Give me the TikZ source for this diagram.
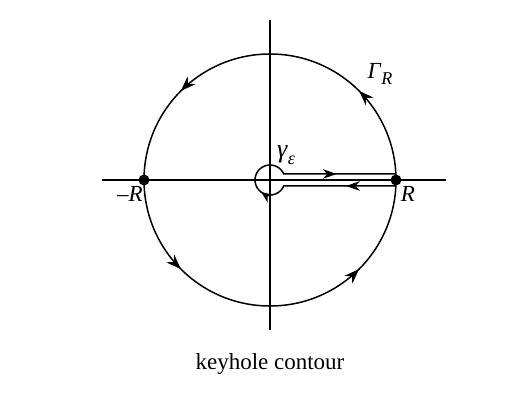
\documentclass[tikz,border=0pt]{standalone}
\usepackage{fontspec}
\setmainfont{Liberation Serif}
\usetikzlibrary{arrows.meta,decorations.markings}
\newcommand{\mysub}[1]{\raisebox{-0.25em}{\fontsize{9}{10}\selectfont\textit{#1}}}
\tikzset{
  ln/.style={line width=0.75pt},
  dot/.style={circle,fill=black,inner sep=0pt,minimum size=5.5pt},
  lbl/.style={inner sep=1pt,font=\fontsize{11.5}{13}\selectfont},
  bigarrows/.style={postaction={decorate},decoration={markings,
    mark=at position 0.125 with {\arrow{Stealth[length=7.5pt,width=5.5pt]}},
    mark=at position 0.375 with {\arrow{Stealth[length=7.5pt,width=5.5pt]}},
    mark=at position 0.625 with {\arrow{Stealth[length=7.5pt,width=5.5pt]}},
    mark=at position 0.875 with {\arrow{Stealth[length=7.5pt,width=5.5pt]}}}},
  keyarrows/.style={postaction={decorate},decoration={markings,
    mark=at position 0.163 with {\arrow{Stealth[length=7pt,width=4.8pt]}},
    mark=at position 0.453 with {\arrow{Stealth[length=5.5pt,width=4.8pt]}},
    mark=at position 0.807 with {\arrow{Stealth[length=7pt,width=4.8pt]}}}}
}
\begin{document}
\begin{tikzpicture}[x=0.5pt,y=0.5pt]
\useasboundingbox (-270,-220) rectangle (252,180);
% axes
\coordinate (xl) at (-168,0);
\coordinate (xr) at (176,0);
\coordinate (yt) at (0,160);
\coordinate (yb) at (0,-150);
\draw[ln] (xl) -- (xr);
\draw[ln] (yt) -- (yb);
% big circle
\draw[ln,bigarrows] (126,0) arc[start angle=0,end angle=360,radius=126];
% keyhole
\coordinate (Rlo) at (125.86,-6);
\coordinate (slo) at (13.75,-6);
\coordinate (Rup) at (125.86,6);
\draw[ln,keyarrows] (Rlo) -- (slo) arc[start angle=-23.58,end angle=-336.42,radius=15] -- (Rup);
% points
\node[dot] (mR) at (-126,0) {};
\node[dot] (R) at (126,0) {};
% labels
\node[lbl] (lmR) at (-140,-14) {–\textit{R}};
\node[lbl] (lR) at (138,-14) {\textit{R}};
\node[lbl] (lG) at (110,106) {\textit{Γ}\mysub{R}};
\node[lbl,font=\fontsize{13}{14}\selectfont] (lg) at (16,25) {\textit{γ}\mysub{ε}};
\node[inner sep=1pt,font=\fontsize{11.5}{14}\selectfont] (cap) at (0,-184) {keyhole contour};
\end{tikzpicture}
\end{document}
